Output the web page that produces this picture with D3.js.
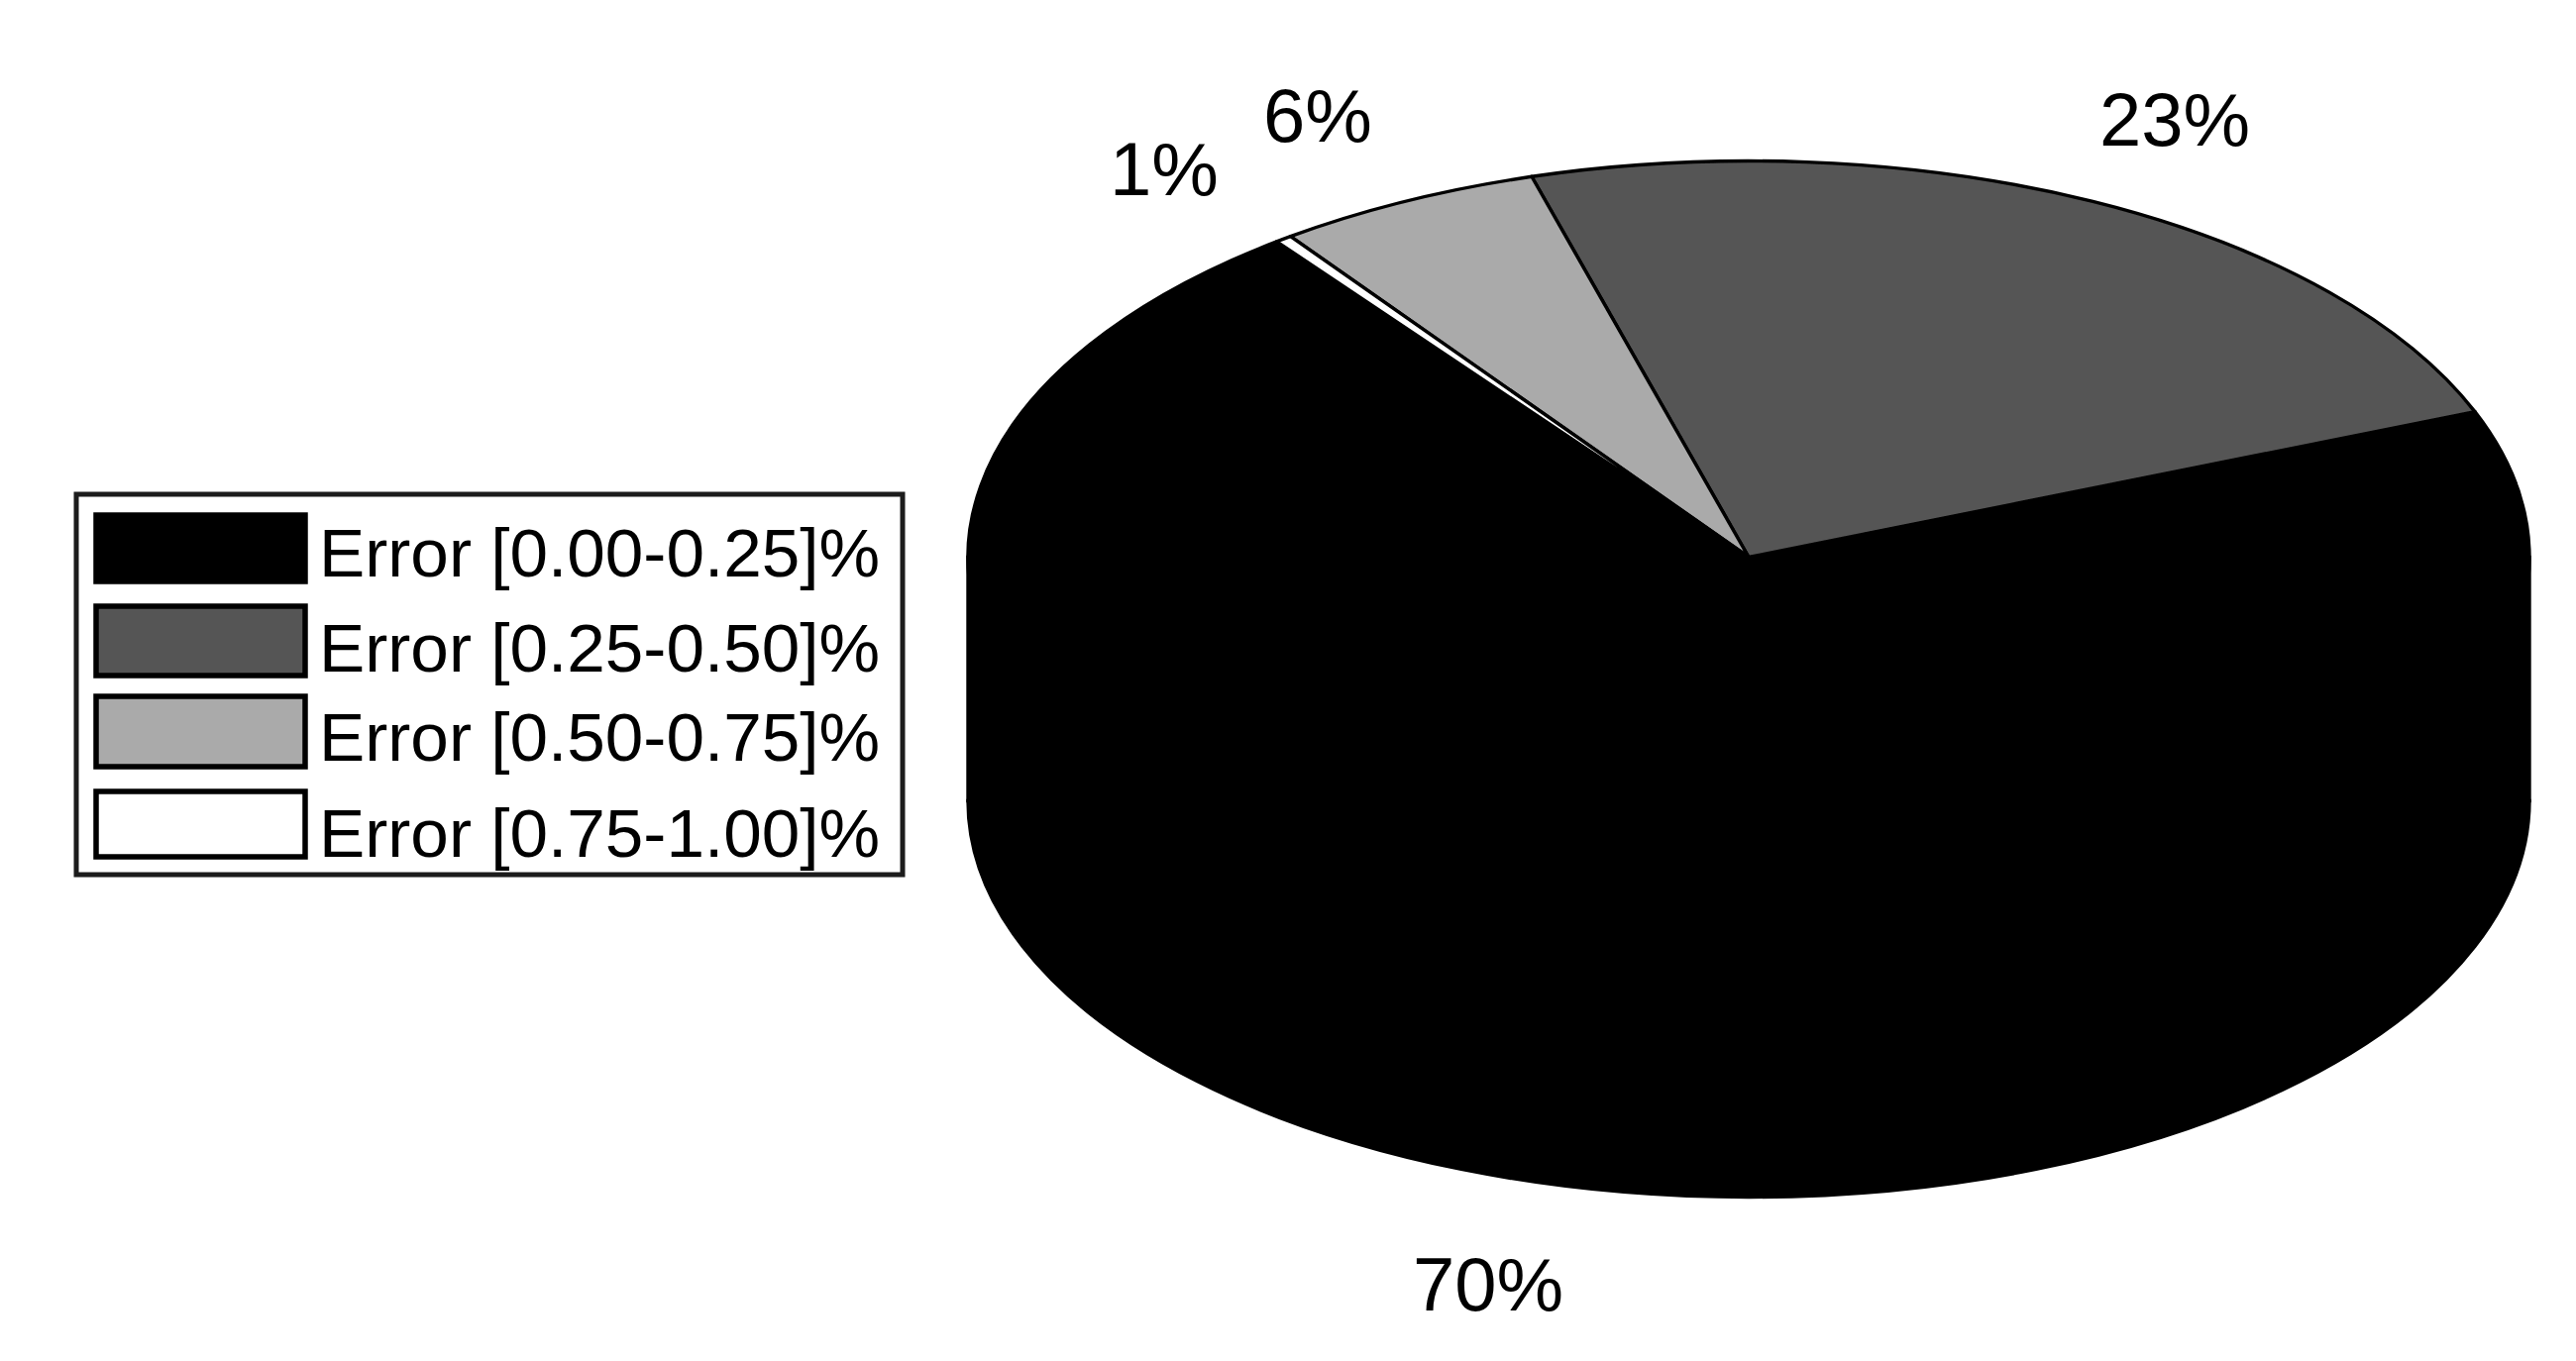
<!DOCTYPE html>
<html>
<head>
<meta charset="utf-8">
<script src="https://cdn.jsdelivr.net/npm/d3@7"></script>
<style>
html,body{margin:0;padding:0;background:#fff;}
svg{display:block;}
text{font-family:"Liberation Sans",Arial,sans-serif;fill:#000;}
</style>
</head>
<body>
<div id="chart"></div>
<script>
// Data
const categories = ["Error [0.00-0.25]%","Error [0.25-0.50]%","Error [0.50-0.75]%","Error [0.75-1.00]%"];
const sliceShares = [70.65, 23.5, 5.5, 0.35];
const sliceLabels = ["70%","23%","6%","1%"];
const sliceColors = ["#000000","#555555","#aaaaaa","#ffffff"];

// Layout
const W = 2600, H = 1374;
const cx = 1765, cy = 562.5, rx = 788, ry = 400, depth = 246;
const startDeg = -37.2;
const labelAnchors = [[1502,1323],[2195,147],[1330,143],[1175,197]];
const legendBox = {x:77,y:499,w:834,h:384};
const swatch = {x:97,w:211,h:[67,70,71,66]};
const legendTops = [520,612,703,799];
const legendBase = [582,678,768,865];

const svg = d3.select("#chart").append("svg").attr("width",W).attr("height",H);
const defs = svg.append("defs");
defs.append("filter").attr("id","soft")
  .attr("x","-5%").attr("y","-5%").attr("width","110%").attr("height","110%")
  .append("feGaussianBlur").attr("stdDeviation",0.7);

const rad = d => d*Math.PI/180;
const pie = d3.pie().sort(null).startAngle(rad(startDeg)).endAngle(rad(startDeg-360));
const arcs = pie(sliceShares);
const arc = d3.arc().innerRadius(0).outerRadius(rx);
const strokeW = 3.4;

const pieG = svg.append("g").attr("filter","url(#soft)");

// Side wall: front half of the lower ellipse, joined to the top face
const wallFace = pieG.append("g").attr("transform",`translate(${cx},${cy}) scale(1,${ry/rx})`);
wallFace.append("path")
  .attr("d", d3.arc().innerRadius(0).outerRadius(rx).startAngle(Math.PI/2).endAngle(Math.PI*1.5)())
  .attr("transform",`translate(0,${depth*rx/ry})`)
  .attr("fill",sliceColors[0])
  .attr("stroke","#000").attr("stroke-width",strokeW)
  .style("vector-effect","non-scaling-stroke");
pieG.append("rect").attr("x",cx-rx).attr("y",cy).attr("width",rx*2).attr("height",depth)
  .attr("fill",sliceColors[0]).attr("stroke","#000").attr("stroke-width",strokeW);

// Top face
const topFace = pieG.append("g").attr("transform",`translate(${cx},${cy}) scale(1,${ry/rx})`);
topFace.selectAll("path").data(arcs).join("path")
  .attr("d",arc)
  .attr("fill",(d,i)=>sliceColors[i])
  .attr("stroke","#000")
  .attr("stroke-width",strokeW)
  .attr("stroke-linejoin","round")
  .style("vector-effect","non-scaling-stroke");

// Slice labels
svg.append("g").attr("filter","url(#soft)").selectAll("text").data(sliceLabels).join("text")
  .attr("x",(d,i)=>labelAnchors[i][0])
  .attr("y",(d,i)=>labelAnchors[i][1])
  .attr("text-anchor","middle")
  .attr("font-size",76)
  .text(d=>d);

// Legend
const lg = svg.append("g").attr("filter","url(#soft)");
lg.append("rect").attr("x",legendBox.x).attr("y",legendBox.y).attr("width",legendBox.w).attr("height",legendBox.h)
  .attr("fill","#fff").attr("stroke","#1a1a1a").attr("stroke-width",5);
const rows = lg.selectAll("g.row").data(categories).join("g").attr("class","row");
rows.append("rect")
  .attr("x",swatch.x).attr("y",(d,i)=>legendTops[i])
  .attr("width",swatch.w).attr("height",(d,i)=>swatch.h[i])
  .attr("fill",(d,i)=>sliceColors[i]).attr("stroke","#000").attr("stroke-width",5.5);
rows.append("text")
  .attr("x",322).attr("y",(d,i)=>legendBase[i])
  .attr("font-size",69.3)
  .text(d=>d);
</script>
</body>
</html>
